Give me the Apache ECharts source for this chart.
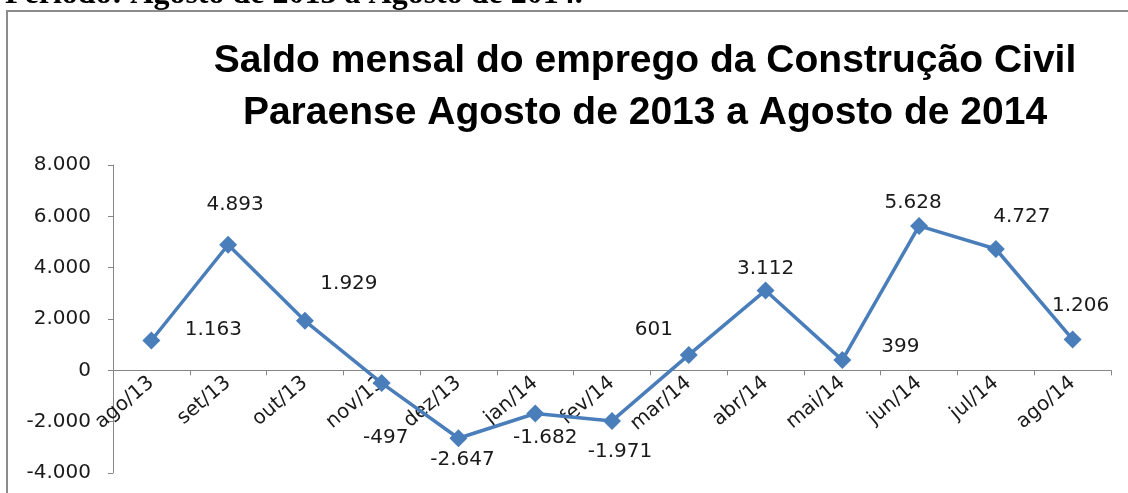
<!DOCTYPE html>
<html>
<head>
<meta charset="utf-8">
<script src="https://cdn.jsdelivr.net/npm/echarts@6/dist/echarts.min.js"></script>
<style>
  html, body { margin: 0; padding: 0; background: #fff; }
  #chart { width: 1128px; height: 493px; }
</style>
</head>
<body>
<div id="chart"></div>
<script>
// dados
const categorias = ['ago/13', 'set/13', 'out/13', 'nov/13', 'dez/13', 'jan/14', 'fev/14',
  'mar/14', 'abr/14', 'mai/14', 'jun/14', 'jul/14', 'ago/14'];
const saldo = [1163, 4893, 1929, -497, -2647, -1682, -1971, 601, 3112, 399, 5628, 4727, 1206];
const ticksY = [-4000, -2000, 0, 2000, 4000, 6000, 8000];

// deslocamento dos rótulos (estilo do Excel)
const labelOffsets = [[62, -11], [7, -40], [44, -37], [4, 55], [4, 22], [10, 24], [8, 31],
  [-35, -25], [0, -22], [58, -13], [-6, -23], [26, -32], [8, -34]];

const fmt = v => {
  let s = Math.abs(v).toString().replace(/\B(?=(\d{3})+(?!\d))/g, '.');
  return (v < 0 ? '-' : '') + s;
};

const azul = '#4a7ebb';
const fonte = '"DejaVu Sans", sans-serif';

// área do gráfico
const gTop = 165, gBottom = 20, gHeight = 493 - gTop - gBottom;
const yMin = ticksY[0], yMax = ticksY[ticksY.length - 1];
// o eixo x fica na linha do zero
const xOffset = -(gHeight * (0 - yMin) / (yMax - yMin));

let myChart = echarts.init(document.getElementById('chart'));
let option = {
  animation: false,
  backgroundColor: '#fff',
  title: {
    text: 'Saldo mensal do emprego da Construção Civil\nParaense Agosto de 2013 a Agosto de 2014',
    left: 640,
    top: 30,
    textAlign: 'center',
    textStyle: {
      fontFamily: '"Liberation Sans", sans-serif',
      fontWeight: 'bold',
      fontSize: 39,
      lineHeight: 52,
      color: '#000'
    }
  },
  graphic: [
    {
      type: 'text',
      left: 5,
      top: -21,
      style: {
        text: 'Período: Agosto de 2013 a Agosto de 2014.',
        font: 'bold 32px "Liberation Serif", serif',
        fill: '#000'
      }
    },
    {
      type: 'rect',
      shape: { x: 7, y: 11, width: 1200, height: 600 },
      style: { fill: 'none', stroke: '#8c8c8c', lineWidth: 2 }
    }
  ],
  grid: { left: 113, right: 17, top: gTop, bottom: gBottom, containLabel: false, outerBoundsMode: 'none' },
  xAxis: {
    type: 'category',
    data: categorias,
    boundaryGap: true,
    offset: xOffset,
    axisLine: { onZero: false, lineStyle: { color: '#868686', width: 1 } },
    axisTick: { show: true, length: 5, lineStyle: { color: '#868686' } },
    axisLabel: {
      rotate: 40,
      margin: 10,
      interval: 0,
      fontFamily: fonte,
      fontSize: 20,
      color: '#1a1a1a'
    }
  },
  yAxis: {
    type: 'value',
    min: yMin,
    max: yMax,
    interval: 2000,
    splitLine: { show: false },
    axisLine: { show: true, lineStyle: { color: '#868686', width: 1 } },
    axisTick: { show: true, length: 5, lineStyle: { color: '#868686' } },
    axisLabel: {
      margin: 22,
      fontFamily: fonte,
      fontSize: 20,
      color: '#1a1a1a',
      formatter: v => fmt(v)
    }
  },
  series: [{
    name: 'Saldo',
    type: 'line',
    data: saldo.map((v, i) => ({
      value: v,
      label: { offset: labelOffsets[i] }
    })),
    symbol: 'diamond',
    symbolSize: 18,
    itemStyle: { color: azul },
    lineStyle: { color: azul, width: 3.5 },
    z: 3,
    label: {
      show: true,
      position: 'inside',
      fontFamily: fonte,
      fontSize: 20,
      color: '#1a1a1a',
      formatter: p => fmt(p.value)
    }
  }]
};
myChart.setOption(option);
</script>
</body>
</html>
